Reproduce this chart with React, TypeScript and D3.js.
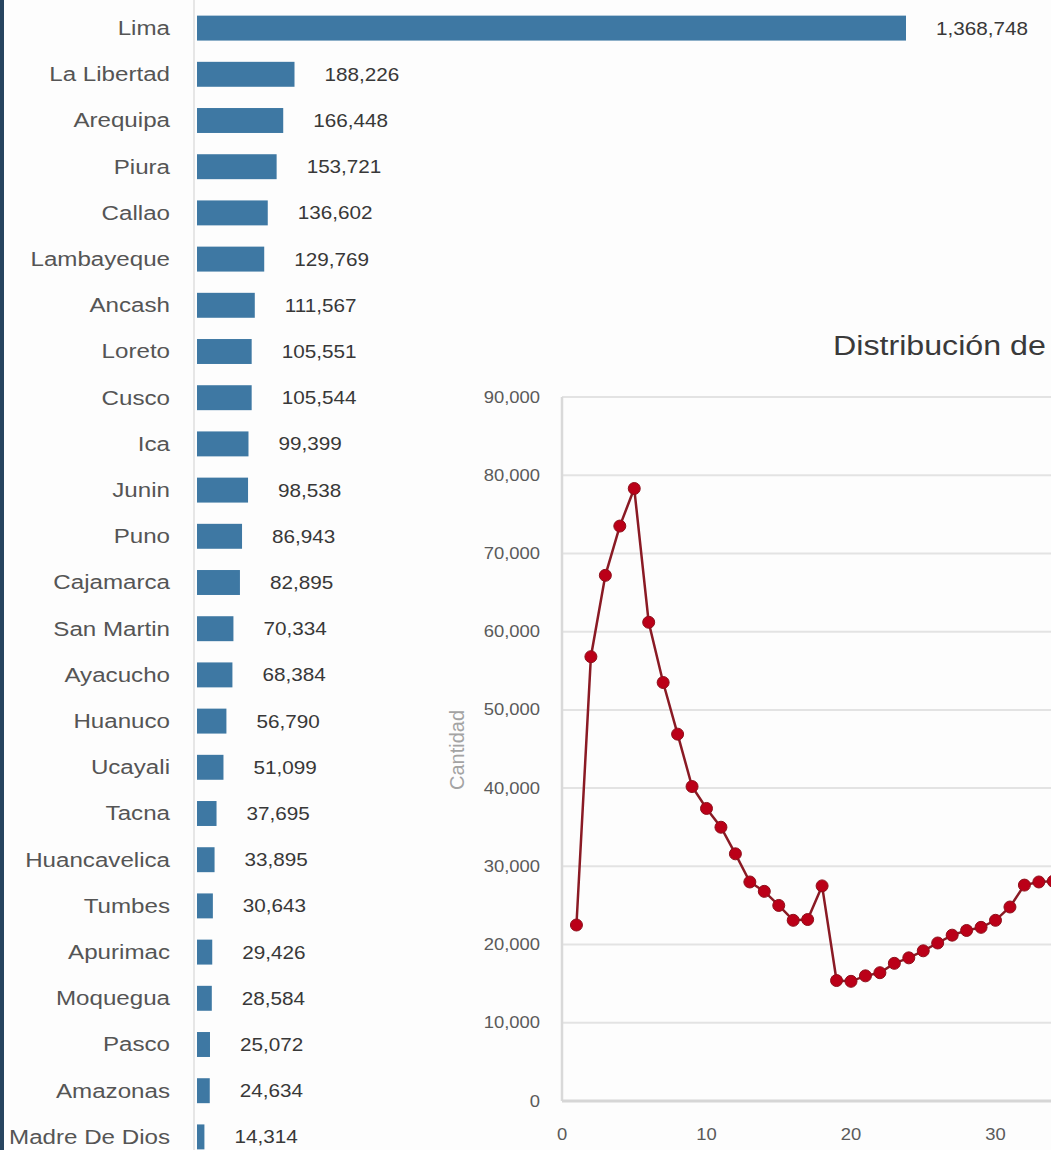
import React, { useEffect, useRef } from 'react';
import * as d3 from 'd3';

// casos por departamento
const regions = [
  'Lima', 'La Libertad', 'Arequipa', 'Piura', 'Callao', 'Lambayeque', 'Ancash',
  'Loreto', 'Cusco', 'Ica', 'Junin', 'Puno', 'Cajamarca', 'San Martin',
  'Ayacucho', 'Huanuco', 'Ucayali', 'Tacna', 'Huancavelica', 'Tumbes',
  'Apurimac', 'Moquegua', 'Pasco', 'Amazonas', 'Madre De Dios',
];
const regionCases = [
  1368748, 188226, 166448, 153721, 136602, 129769, 111567,
  105551, 105544, 99399, 98538, 86943, 82895, 70334,
  68384, 56790, 51099, 37695, 33895, 30643,
  29426, 28584, 25072, 24634, 14314,
];

// distribucion diaria (visible part)
const days = [
  1, 2, 3, 4, 5, 6, 7, 8, 9, 10, 11, 12, 13, 14, 15, 16, 17,
  18, 19, 20, 21, 22, 23, 24, 25, 26, 27, 28, 29, 30, 31, 32, 33, 34,
];
const dailyCases = [
  22500, 56800, 67200, 73500, 78300, 61200, 53500, 46900, 40200, 37400, 35000, 31600, 28000, 26800, 25000, 23100, 23200,
  27500, 15400, 15300, 16000, 16400, 17600, 18300, 19200, 20200, 21200, 21800, 22200, 23100, 24800, 27600, 28000, 28100,
];
const yTicks = [0, 10000, 20000, 30000, 40000, 50000, 60000, 70000, 80000, 90000];
const xTicks = [0, 10, 20, 30];
const chartTitle = 'Distribución de';
const yAxisTitle = 'Cantidad';

export default function App() {
  const svgRef = useRef<SVGSVGElement>(null);

  useEffect(() => {
    const w = 1051;
    const h = 1150;
    const font = 'Arial, "Liberation Sans", sans-serif';
    const sx = 1.15; // the capture is a bit wide, stretch text to match

    const svg = d3
      .select(svgRef.current)
      .attr('width', w)
      .attr('height', h)
      .style('background', '#fdfdfd');
    svg.selectAll('*').remove();

    // dark edge on the left
    svg.append('rect').attr('x', 0).attr('y', 0).attr('width', 4).attr('height', h).attr('fill', '#27445f');

    // ---- bar chart ----
    const xScale = d3.scaleLinear().domain([0, d3.max(regionCases) as number]).range([197, 906]);
    const yScale = d3
      .scaleBand()
      .domain(regions)
      .range([5, 1160])
      .paddingInner(0.46)
      .paddingOuter(0.23);

    svg
      .append('line')
      .attr('x1', 194)
      .attr('x2', 194)
      .attr('y1', 0)
      .attr('y2', h)
      .attr('stroke', '#dedede')
      .attr('stroke-width', 1.5);

    const rows = regions.map((r, i) => ({ region: r, value: regionCases[i] }));

    svg
      .selectAll('.bar')
      .data(rows)
      .join('rect')
      .attr('class', 'bar')
      .attr('x', xScale(0))
      .attr('y', (d: any) => yScale(d.region) as number)
      .attr('width', (d: any) => xScale(d.value) - xScale(0))
      .attr('height', yScale.bandwidth())
      .attr('fill', '#3e78a3');

    svg
      .selectAll('.cat')
      .data(rows)
      .join('text')
      .attr('class', 'cat')
      .attr(
        'transform',
        (d: any) => `translate(170,${(yScale(d.region) as number) + yScale.bandwidth() / 2}) scale(${sx},1)`
      )
      .attr('text-anchor', 'end')
      .attr('dominant-baseline', 'central')
      .style('font-family', font)
      .style('font-size', '21px')
      .attr('fill', '#555')
      .text((d: any) => d.region);

    svg
      .selectAll('.val')
      .data(rows)
      .join('text')
      .attr('class', 'val')
      .attr(
        'transform',
        (d: any) =>
          `translate(${xScale(d.value) + 30},${(yScale(d.region) as number) + yScale.bandwidth() / 2}) scale(${sx},1)`
      )
      .attr('text-anchor', 'start')
      .attr('dominant-baseline', 'central')
      .style('font-family', font)
      .style('font-size', '18px')
      .attr('fill', '#383838')
      .text((d: any) => d3.format(',')(d.value));

    // ---- line chart ----
    const lx = d3.scaleLinear().domain([0, 40]).range([562, 1140]);
    const ly = d3.scaleLinear().domain([0, 90000]).range([1101, 397]);

    svg
      .selectAll('.grid')
      .data(yTicks.filter((t) => t > 0))
      .join('line')
      .attr('class', 'grid')
      .attr('x1', lx(0))
      .attr('x2', w)
      .attr('y1', (d: any) => ly(d))
      .attr('y2', (d: any) => ly(d))
      .attr('stroke', '#e3e3e3')
      .attr('stroke-width', 2);

    svg
      .append('line')
      .attr('x1', lx(0))
      .attr('x2', lx(0))
      .attr('y1', ly(90000))
      .attr('y2', ly(0))
      .attr('stroke', '#d9d9d9')
      .attr('stroke-width', 2.5);

    svg
      .append('line')
      .attr('x1', lx(0))
      .attr('x2', w)
      .attr('y1', ly(0))
      .attr('y2', ly(0))
      .attr('stroke', '#d6d6d6')
      .attr('stroke-width', 3);

    svg
      .selectAll('.ytick')
      .data(yTicks)
      .join('text')
      .attr('class', 'ytick')
      .attr('transform', (d: any) => `translate(540,${ly(d)}) scale(${sx},1)`)
      .attr('text-anchor', 'end')
      .attr('dominant-baseline', 'central')
      .style('font-family', font)
      .style('font-size', '16px')
      .attr('fill', '#5a5a5a')
      .text((d: any) => d3.format(',')(d));

    svg
      .selectAll('.xtick')
      .data(xTicks)
      .join('text')
      .attr('class', 'xtick')
      .attr('transform', (d: any) => `translate(${lx(d)},1134) scale(${sx},1)`)
      .attr('text-anchor', 'middle')
      .attr('dominant-baseline', 'central')
      .style('font-family', font)
      .style('font-size', '16px')
      .attr('fill', '#5a5a5a')
      .text((d: any) => d);

    svg
      .append('text')
      .attr('transform', 'translate(464,750) rotate(-90)')
      .attr('text-anchor', 'middle')
      .style('font-family', font)
      .style('font-size', '20px')
      .attr('fill', '#a3a3a3')
      .text(yAxisTitle);

    svg
      .append('text')
      .attr('transform', `translate(833,355) scale(${sx},1)`)
      .attr('text-anchor', 'start')
      .style('font-family', font)
      .style('font-size', '28px')
      .attr('fill', '#3a3a3a')
      .text(chartTitle);

    const pts = days.map((d, i) => ({ day: d, value: dailyCases[i] }));
    const line = d3
      .line<any>()
      .x((d: any) => lx(d.day))
      .y((d: any) => ly(d.value));

    svg
      .append('path')
      .attr('d', line(pts) as string)
      .attr('fill', 'none')
      .attr('stroke', '#8a1a24')
      .attr('stroke-width', 2.5);

    svg
      .selectAll('.dot')
      .data(pts)
      .join('circle')
      .attr('class', 'dot')
      .attr('cx', (d: any) => lx(d.day))
      .attr('cy', (d: any) => ly(d.value))
      .attr('r', 6)
      .attr('fill', '#bb0018')
      .attr('stroke', '#8e101c')
      .attr('stroke-width', 1);
  }, []);

  return <svg ref={svgRef} style={{ position: 'absolute', left: 0, top: 0, display: 'block' }}></svg>;
}
